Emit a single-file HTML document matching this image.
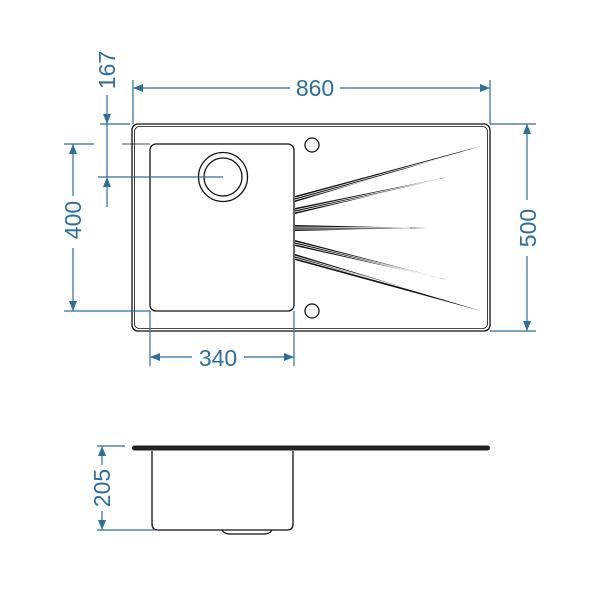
<!DOCTYPE html>
<html><head><style>body{margin:0;background:#fff}svg{display:block}</style></head><body>
<svg width="600" height="600" viewBox="0 0 600 600" xmlns="http://www.w3.org/2000/svg">
<defs>
<marker id="a" markerWidth="10" markerHeight="8" refX="10" refY="4" orient="auto-start-reverse" markerUnits="userSpaceOnUse"><path d="M0,0 L10,4 L0,8 Z" fill="#2e6e9b"/></marker>
</defs>
<g fill="none" stroke="#111" stroke-width="1.3">
<rect x="132" y="124" width="358" height="207" rx="6"/>
<rect x="134.5" y="126.5" width="353" height="202" rx="5" stroke-width="0.8"/>
<rect x="150" y="144" width="144" height="167" rx="6"/>
<circle cx="223" cy="177" r="24.5"/>
<circle cx="223" cy="177" r="19"/>
<circle cx="312" cy="145" r="7"/>
<circle cx="312" cy="311" r="7"/>
<line x1="122" y1="144" x2="150" y2="144" stroke-width="0.8"/>
</g>
<g fill="#111">
<polygon points="295,196 481,146 295,202"/>
<polygon points="295,208 448,177 295,214"/>
<polygon points="295,225 427,228 295,231"/>
<polygon points="295,240 448,280 295,246"/>
<polygon points="295,254 481,311 295,260"/>
</g>
<g stroke="#fff" stroke-width="0.7">
<line x1="295" y1="198" x2="470" y2="150"/><line x1="295" y1="200" x2="460" y2="154"/>
<line x1="295" y1="210" x2="440" y2="179"/><line x1="295" y1="212" x2="430" y2="182"/>
<line x1="295" y1="227" x2="410" y2="228"/><line x1="295" y1="229" x2="400" y2="229"/>
<line x1="295" y1="242" x2="440" y2="278"/><line x1="295" y1="244" x2="430" y2="276"/>
<line x1="295" y1="256" x2="470" y2="307"/><line x1="295" y1="258" x2="460" y2="303"/>
</g>
<!-- side view -->
<g fill="none" stroke="#111" stroke-width="1.3">
<path d="M152,451 V524 Q152,530 158,530 H287 Q293,530 293,524 V451"/>
<path d="M222,530 Q224,534 230,534 H264 Q270,534 272,530"/>
</g>
<rect x="132" y="445.5" width="358" height="5" rx="2.5" fill="#222"/>
<g stroke="#2e6e9b" stroke-width="1.2" fill="none">
<line x1="133" y1="80" x2="133" y2="124"/><line x1="490" y1="80" x2="490" y2="124"/>
<line x1="133" y1="88" x2="290" y2="88" marker-start="url(#a)"/><line x1="340" y1="88" x2="490" y2="88" marker-end="url(#a)"/>
<line x1="490" y1="124" x2="536" y2="124"/><line x1="490" y1="331" x2="536" y2="331"/>
<line x1="527" y1="124" x2="527" y2="200" marker-start="url(#a)"/><line x1="527" y1="256" x2="527" y2="331" marker-end="url(#a)"/>
<line x1="64" y1="144" x2="94" y2="144"/><line x1="64" y1="311" x2="150" y2="311"/>
<line x1="73" y1="144" x2="73" y2="196" marker-start="url(#a)"/><line x1="73" y1="248" x2="73" y2="311" marker-end="url(#a)"/>
<line x1="100" y1="124" x2="130" y2="124"/><line x1="98" y1="177" x2="223" y2="177"/>
<line x1="107" y1="95" x2="107" y2="124" marker-end="url(#a)"/><line x1="107" y1="207" x2="107" y2="177" marker-end="url(#a)"/>
<line x1="107" y1="124" x2="107" y2="177"/>
<line x1="150" y1="311" x2="150" y2="366"/><line x1="294" y1="311" x2="294" y2="366"/>
<line x1="150" y1="357" x2="192" y2="357" marker-start="url(#a)"/><line x1="244" y1="357" x2="294" y2="357" marker-end="url(#a)"/>
<line x1="97" y1="446" x2="125" y2="446"/><line x1="97" y1="530" x2="155" y2="530"/>
<line x1="102" y1="446" x2="102" y2="465" marker-start="url(#a)"/><line x1="102" y1="511" x2="102" y2="530" marker-end="url(#a)"/>
</g>
<g fill="#2e6e9b" font-family="Liberation Sans, sans-serif" font-size="23" text-anchor="middle">
<text x="315" y="96">860</text>
<text x="218" y="366">340</text>
<text transform="translate(536,228) rotate(-90)">500</text>
<text transform="translate(81,220) rotate(-90)">400</text>
<text transform="translate(115,70) rotate(-90)">167</text>
<text transform="translate(110,488) rotate(-90)">205</text>
</g>
</svg>
</body></html>
